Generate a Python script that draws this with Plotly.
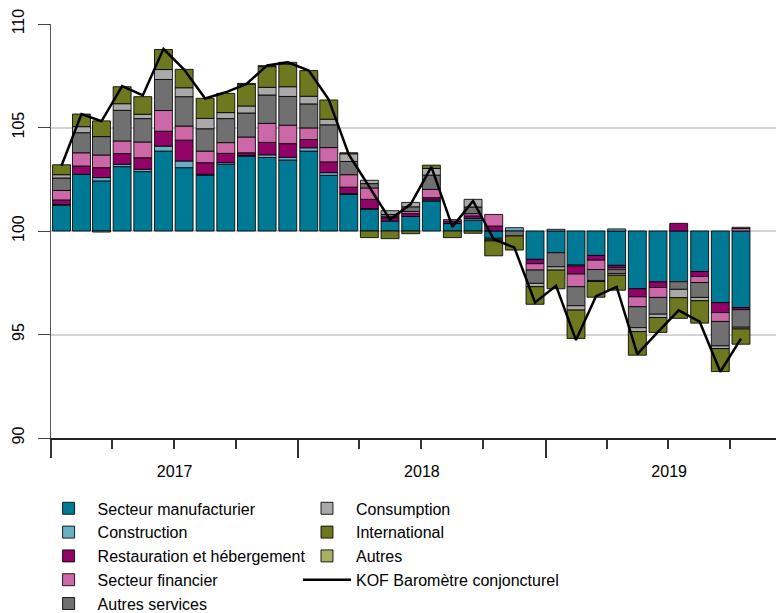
import plotly.graph_objects as go

months = ["2017-01", "2017-02", "2017-03", "2017-04", "2017-05", "2017-06",
          "2017-07", "2017-08", "2017-09", "2017-10", "2017-11", "2017-12",
          "2018-01", "2018-02", "2018-03", "2018-04", "2018-05", "2018-06",
          "2018-07", "2018-08", "2018-09", "2018-10", "2018-11", "2018-12",
          "2019-01", "2019-02", "2019-03", "2019-04", "2019-05", "2019-06",
          "2019-07", "2019-08", "2019-09", "2019-10"]

# contributions (deviation from the long-term average of 100)
manufacturier = [1.25, 2.74, 2.42, 3.11, 2.87, 3.86, 3.06, 2.69, 3.22, 3.62, 3.55, 3.43,
                 3.86, 2.69, 1.77, 1.05, 0.48, 0.70, 1.45, 0.36, 0.52, -0.35, None, -1.37,
                 -1.05, -1.64, -1.18, -1.66, -2.79, -2.46, -2.45, -1.96, -3.46, -3.70]
construction = [0.03, None, 0.16, 0.11, 0.11, 0.24, 0.32, 0.05, 0.08, 0.03, 0.13, 0.13,
                0.16, 0.13, 0.03, 0.03, None, None, 0.05, None, 0.08, None, 0.16, None,
                0.08, -0.05, None, 0.10, None, None, None, None, None, None]
restauration = [0.22, 0.40, 0.48, 0.52, 0.56, 0.72, 1.01, 0.56, 0.45, 0.13, 0.60, 0.66,
                0.40, 0.52, 0.32, 0.45, 0.16, 0.14, 0.11, 0.11, 0.13, 0.24, None, -0.21,
                None, -0.39, -0.23, -0.11, -0.39, -0.27, 0.37, -0.24, -0.48, -0.10]
financier = [0.46, 0.64, 0.61, 0.61, 0.76, 1.00, 0.68, 0.56, 0.52, 0.76, 0.92, 0.89,
             0.56, 0.69, 0.60, 0.55, 0.05, 0.10, 0.40, 0.08, 0.11, 0.56, None, -0.31,
             None, -0.61, -0.45, -0.08, -0.48, -0.48, None, -0.29, -0.43, 0.12]
autres_services = [0.60, 0.97, 0.89, 1.48, 1.13, 1.50, 1.42, 1.08, 1.16, 1.16, 1.37, 1.39,
                   1.16, 1.10, 0.64, 0.21, 0.11, 0.23, 0.69, None, 0.32, -0.08, -0.24, -0.64,
                   -0.68, -0.92, -0.53, -0.21, -1.01, -0.81, -0.37, -0.72, -1.18, -0.85]
consumption = [0.16, 0.29, -0.05, 0.32, 0.21, 0.48, 0.43, 0.50, 0.29, 0.34, 0.37, 0.47,
               0.37, 0.27, 0.37, 0.16, 0.18, 0.21, 0.32, None, 0.37, -0.05, None, -0.16,
               -0.16, -0.21, -0.05, -0.08, -0.19, -0.16, -0.40, -0.16, -0.13, -0.08]
international = [0.48, 0.61, 0.76, 0.82, 0.85, 0.97, 0.89, 0.97, 0.93, 1.05, 1.00, 1.10,
                 1.24, 0.93, 0.05, -0.32, -0.37, -0.13, 0.16, -0.32, -0.11, -0.72, -0.68, -0.85,
                 -0.90, -1.37, -0.76, -0.72, -1.14, -0.72, -1.00, -1.08, -1.11, -0.74]
autres = [None, None, None, None, None, None, None, None, None, 0.04, 0.05, 0.08,
          None, None, None, None, None, None, None, None, None, None, None, None,
          None, None, None, None, None, None, None, None, None, 0.06]
kof = [103.15, 105.65, 105.3, 107.0, 106.55, 108.8, 107.8, 106.4, 106.7, 107.1, 108.0, 108.15,
       107.75, 106.35, 103.7, 102.1, 100.55, 101.3, 103.1, 100.2, 101.45, 99.6, 99.2, 96.55,
       97.35, 94.73, 96.85, 97.3, 94.05, 95.13, 96.17, 95.62, 93.2, 94.8]

base_level = 100
y_tick_labels = ["90", "95", "100", "105", "110"]
y_tick_levels = [90, 95, 100, 105, 110]

series = [
    ("Secteur manufacturier", manufacturier, "#007A94", "legend"),
    ("Construction", construction, "#68B0C4", "legend"),
    ("Restauration et hébergement", restauration, "#920368", "legend"),
    ("Secteur financier", financier, "#CC67A8", "legend"),
    ("Autres services", autres_services, "#707070", "legend"),
    ("Consumption", consumption, "#A9A9A9", "legend2"),
    ("International", international, "#6E781E", "legend2"),
    ("Autres", autres, "#A9B065", "legend2"),
]

FONT = "Liberation Sans, Arial, sans-serif"
bar_width = 0.87 * 30.44 * 86400000

fig = go.Figure()
for name, vals, color, leg in series:
    fig.add_trace(go.Bar(
        x=months, y=vals, name=name,
        xperiod="M1", xperiodalignment="middle", width=bar_width,
        marker=dict(color=color, line=dict(color="rgba(0,0,0,0.85)", width=1)),
        legend=leg,
    ))

fig.add_trace(go.Scatter(
    x=months, y=[v - base_level for v in kof], name="KOF Baromètre conjoncturel",
    mode="lines", xperiod="M1", xperiodalignment="middle",
    line=dict(color="black", width=2.5), legend="legend2",
))

fig.add_shape(type="line", xref="paper", x0=0, x1=1, yref="y", y0=0, y1=0,
              line=dict(color="#4a4a4a", width=1.5), layer="below")

legend_common = dict(xanchor="left", yanchor="top", xref="container", yref="container",
                     orientation="v", font=dict(size=16, family=FONT),
                     bgcolor="rgba(0,0,0,0)", tracegroupgap=0, itemwidth=48)

fig.update_layout(
    width=776, height=605,
    margin=dict(l=43, r=0, t=16, b=175, autoexpand=False),
    barmode="relative",
    plot_bgcolor="white", paper_bgcolor="white",
    font=dict(family=FONT, size=16, color="black"),
    showlegend=True,
    legend=dict(x=0.0407, y=0.2010, **legend_common),
    legend2=dict(x=0.3737, y=0.2010, **legend_common),
    xaxis=dict(
        type="date", range=["2017-01-01", "2019-12-19"],
        tick0="2017-01-01", dtick="M12", tickformat="%Y", ticklabelmode="period",
        ticks="outside", ticklen=18, tickwidth=1.5, tickcolor="#333",
        minor=dict(dtick="M3", ticks="outside", ticklen=9, tickwidth=1.5,
                   tickcolor="#333", showgrid=False),
        showline=True, linecolor="#222", linewidth=2, showgrid=False,
        tickfont=dict(size=16, family=FONT), ticklabelstandoff=0,
    ),
    yaxis=dict(
        range=[y_tick_levels[0] - base_level, y_tick_levels[-1] - base_level],
        tickvals=[v - base_level for v in y_tick_levels], ticktext=y_tick_labels,
        tickangle=-90,
        ticks="outside", ticklen=12, tickcolor="#444",
        showline=True, linecolor="#555", linewidth=1,
        showgrid=True, gridcolor="#d4d4d4", gridwidth=1.5,
        zeroline=False, tickfont=dict(size=16, family=FONT),
        ticklabelstandoff=8,
    ),
)

fig.write_html("out.html")
